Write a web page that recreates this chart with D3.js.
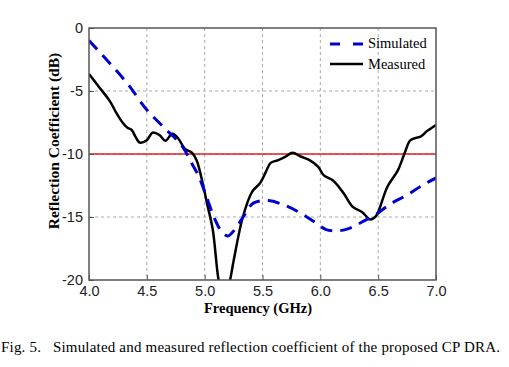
<!DOCTYPE html>
<html>
<head>
<meta charset="utf-8">
<script src="https://cdn.jsdelivr.net/npm/d3@7"></script>
<style>
body { margin: 0; background: #fff; }
</style>
</head>
<body>
<div id="chart"></div>
<script>
// values
var xTicks = [4.0, 4.5, 5.0, 5.5, 6.0, 6.5, 7.0];
var yTicks = [0, -5, -10, -15, -20];
var threshold = -10;

var simFreq = [4.0, 4.17, 4.34, 4.5, 4.66, 4.8, 4.88, 4.95, 5.02, 5.08, 5.15, 5.2, 5.26, 5.34, 5.42, 5.55, 5.7, 5.83, 5.95, 6.05, 6.15, 6.25, 6.36, 6.48, 6.6, 6.74, 6.88, 7.0];
var simDb = [-1.0, -2.7, -4.5, -6.5, -8.0, -9.3, -10.6, -11.8, -13.5, -15.0, -16.2, -16.5, -16.0, -14.9, -13.9, -13.7, -14.1, -14.7, -15.4, -16.0, -16.1, -15.9, -15.4, -14.8, -14.0, -13.3, -12.5, -11.9];

var measFreq = [4.0, 4.08, 4.18, 4.24, 4.29, 4.33, 4.37, 4.4, 4.44, 4.5, 4.55, 4.61, 4.66, 4.72, 4.77, 4.83, 4.89, 4.93, 4.97, 5.02, 5.07, 5.12, 5.17, 5.22, 5.25, 5.33, 5.41, 5.48, 5.53, 5.57, 5.63, 5.7, 5.76, 5.83, 5.91, 5.98, 6.03, 6.11, 6.2, 6.28, 6.36, 6.43, 6.46, 6.49, 6.58, 6.67, 6.73, 6.78, 6.87, 6.92, 7.0];
var measDb = [-3.65, -4.6, -5.8, -6.8, -7.5, -7.9, -8.1, -8.6, -9.1, -8.9, -8.3, -8.5, -8.95, -8.4, -8.75, -9.6, -9.9, -10.5, -11.8, -13.9, -16.0, -20.0, -22.0, -20.0, -18.5, -15.0, -13.0, -12.3, -11.4, -10.7, -10.5, -10.2, -9.9, -10.2, -10.5, -11.0, -11.7, -12.1, -13.1, -14.2, -14.6, -15.2, -15.1, -14.8, -12.6, -11.3, -9.9, -8.9, -8.6, -8.2, -7.7];

var W = 509, H = 367;
var margin = { left: 89, right: 73, top: 28, bottom: 87 };

var svg = d3.select('#chart').append('svg')
    .attr('width', W)
    .attr('height', H);

var x = d3.scaleLinear().domain([4, 7]).range([margin.left, W - margin.right]);
var y = d3.scaleLinear().domain([-20, 0]).range([H - margin.bottom, margin.top]);

// clip for the curve that dips below -20
svg.append('clipPath').attr('id', 'plotClip')
  .append('rect')
    .attr('x', margin.left)
    .attr('y', margin.top)
    .attr('width', x(7) - x(4))
    .attr('height', y(-20) - y(0));

// grid
var grid = svg.append('g');
grid.selectAll('line.vg')
    .data(xTicks.slice(1, -1))
  .enter().append('line')
    .attr('x1', function(d) { return x(d); })
    .attr('x2', function(d) { return x(d); })
    .attr('y1', y(0))
    .attr('y2', y(-20))
    .attr('stroke', '#aaa')
    .attr('stroke-width', 1)
    .attr('stroke-dasharray', '3,3');
grid.selectAll('line.hg')
    .data(yTicks.slice(1, -1))
  .enter().append('line')
    .attr('x1', x(4))
    .attr('x2', x(7))
    .attr('y1', function(d) { return y(d); })
    .attr('y2', function(d) { return y(d); })
    .attr('stroke', '#aaa')
    .attr('stroke-width', 1)
    .attr('stroke-dasharray', '3,3');

// red -10 dB line
svg.append('line')
    .attr('x1', x(4)).attr('x2', x(7))
    .attr('y1', y(threshold)).attr('y2', y(threshold))
    .attr('stroke', '#e02020')
    .attr('stroke-width', 1.5);

var line = d3.line()
    .x(function(d) { return x(d[0]); })
    .y(function(d) { return y(d[1]); })
    .curve(d3.curveCatmullRom);

var plot = svg.append('g').attr('clip-path', 'url(#plotClip)');

plot.append('path')
    .datum(measFreq.map(function(f, i) { return [f, measDb[i]]; }))
    .attr('d', line)
    .attr('fill', 'none')
    .attr('stroke', '#000')
    .attr('stroke-width', 2.5)
    .attr('stroke-linejoin', 'round');

plot.append('path')
    .datum(simFreq.map(function(f, i) { return [f, simDb[i]]; }))
    .attr('d', line)
    .attr('fill', 'none')
    .attr('stroke', '#0000cc')
    .attr('stroke-width', 3)
    .attr('stroke-dasharray', '12,8');

// axes
var xAxis = d3.axisBottom(x).tickValues(xTicks).tickSizeInner(-5).tickSizeOuter(0)
    .tickFormat(d3.format('.1f'));
var yAxis = d3.axisLeft(y).tickValues(yTicks).tickSizeInner(-5).tickSizeOuter(0)
    .tickFormat(function(d) { return d; });

var gx = svg.append('g')
    .attr('transform', 'translate(0,' + y(-20) + ')')
    .call(xAxis);
var gy = svg.append('g')
    .attr('transform', 'translate(' + x(4) + ',0)')
    .call(yAxis);

[gx, gy].forEach(function(g) {
    g.select('.domain').remove();
    g.selectAll('.tick line').attr('stroke', '#555');
    g.selectAll('.tick text')
        .attr('font-family', 'Liberation Sans, Arial, sans-serif')
        .attr('font-size', 14.5)
        .attr('fill', '#222');
});
gx.selectAll('.tick text').attr('dy', 0).attr('y', 16);
gy.selectAll('.tick text').attr('x', -6);

// frame
svg.append('rect')
    .attr('x', x(4)).attr('y', y(0))
    .attr('width', x(7) - x(4))
    .attr('height', y(-20) - y(0))
    .attr('fill', 'none')
    .attr('stroke', '#555')
    .attr('stroke-width', 1.5);

// axis titles
svg.append('text')
    .attr('x', 258)
    .attr('y', 313)
    .attr('text-anchor', 'middle')
    .attr('font-family', 'Liberation Serif, Times New Roman, serif')
    .attr('font-weight', 'bold')
    .attr('font-size', 14.5)
    .text('Frequency (GHz)');

svg.append('text')
    .attr('transform', 'translate(59,141) rotate(-90)')
    .attr('text-anchor', 'middle')
    .attr('font-family', 'Liberation Serif, Times New Roman, serif')
    .attr('font-weight', 'bold')
    .attr('font-size', 15.5)
    .text('Reflection Coefficient (dB)');

// legend
var legend = svg.append('g');
legend.append('line')
    .attr('x1', 330).attr('x2', 363).attr('y1', 44).attr('y2', 44)
    .attr('stroke', '#0000cc').attr('stroke-width', 3)
    .attr('stroke-dasharray', '10,13');
legend.append('line')
    .attr('x1', 330).attr('x2', 363).attr('y1', 64).attr('y2', 64)
    .attr('stroke', '#000').attr('stroke-width', 2.5);
legend.selectAll('text')
    .data(['Simulated', 'Measured'])
  .enter().append('text')
    .attr('x', 368)
    .attr('y', function(d, i) { return 48 + i * 20.5; })
    .attr('font-family', 'Liberation Serif, Times New Roman, serif')
    .attr('font-size', 14.5)
    .text(function(d) { return d; });

// caption
svg.append('text')
    .attr('x', 1)
    .attr('y', 352)
    .attr('font-family', 'Liberation Serif, Times New Roman, serif')
    .attr('font-size', 15)
    .attr('xml:space', 'preserve')
    .attr('textLength', 499)
    .attr('lengthAdjust', 'spacing')
    .text('Fig. 5.   Simulated and measured reflection coefficient of the proposed CP DRA.');
</script>
</body>
</html>
